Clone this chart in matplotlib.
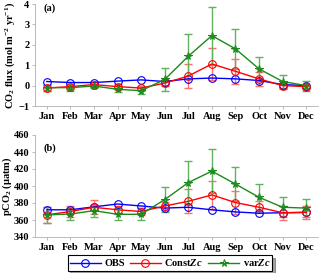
import matplotlib
matplotlib.use('Agg')
import matplotlib.pyplot as plt
import numpy as np

plt.rcParams.update({
    'font.family': ['Liberation Serif', 'DejaVu Serif'],
    'font.weight': 'bold', 'font.size': 7.5,
    'axes.labelweight': 'bold',
    'mathtext.fontset': 'custom', 'mathtext.rm': 'Liberation Serif:bold',
    'mathtext.it': 'Liberation Serif:bold:italic',
    'mathtext.bf': 'Liberation Serif:bold', 'mathtext.default': 'bf',
})

months = ['Jan', 'Feb', 'Mar', 'Apr', 'May', 'Jun', 'Jul', 'Aug', 'Sep', 'Oct', 'Nov', 'Dec']

# (a) CO2 flux
flux_obs = [0.2, 0.15, 0.15, 0.22, 0.28, 0.2, 0.33, 0.37, 0.33, 0.25, 0.05, 0.0]
flux_const = [-0.12, -0.05, 0.05, -0.05, -0.12, 0.12, 0.47, 1.06, 0.7, 0.33, 0.0, -0.05]
flux_const_err = [0.15, 0.12, 0.12, 0.12, 0.12, 0.15, 0.6, 0.8, 0.6, 0.33, 0.15, 0.1]
flux_var = [-0.1, -0.1, -0.02, -0.18, -0.25, 0.3, 1.44, 2.45, 1.8, 0.82, 0.2, 0.0]
flux_var_err = [0.15, 0.15, 0.12, 0.15, 0.15, 0.55, 1.1, 1.42, 0.97, 0.6, 0.3, 0.25]

# (b) pCO2
p_obs = [372, 372, 375.5, 378.8, 376.5, 374, 375, 372, 369.5, 368, 368.5, 369]
p_const = [366, 370, 375, 372, 370, 376.5, 382, 389.5, 380.5, 375, 368.5, 369]
p_const_err = [9, 7, 8, 5, 4, 5, 14, 16, 14, 7, 8, 8]
p_var = [366, 367, 371, 366.7, 366.7, 384, 404, 417.5, 402.3, 386.7, 375, 374]
p_var_err = [9, 7, 7, 7, 7, 15, 25, 26, 20, 16, 12, 11]

series_names = ['OBS', r'Const$\it{Zc}$', r'var$\it{Zc}$']

x = np.arange(len(months))

fig = plt.figure(figsize=(3.2, 2.73), dpi=100)
ax_a = fig.add_axes([35/320, 1 - 106/273, 283/320, 102/273])
ax_b = fig.add_axes([35/320, 1 - 237/273, 283/320, 102/273])

blue, red, green = '#0000ff', '#ff0000', '#1a8a1a'
red_err, green_err = '#ff7070', '#5fb35f'


def draw(ax, obs, const, const_err, var, var_err):
    ax.errorbar(x, const, yerr=const_err, fmt='none', ecolor=red_err,
                elinewidth=1, capsize=3, capthick=1, zorder=2)
    ax.errorbar(x, var, yerr=var_err, fmt='none', ecolor=green_err,
                elinewidth=1, capsize=3, capthick=1, zorder=2)
    ax.plot(x, obs, '-o', color=blue, lw=1, ms=5.5, mfc='none', mew=0.8,
            label=series_names[0], zorder=3)
    ax.plot(x, const, '-o', color=red, lw=1, ms=5.5, mfc='none', mew=0.8,
            label=series_names[1], zorder=3)
    ax.plot(x, var, '-*', color=green, lw=1, ms=5.5, mfc='none', mew=0.8,
            label=series_names[2], zorder=3)
    ax.set_xlim(-0.5, 11.5)
    ax.set_xticks(x)
    ax.set_xticklabels(months)
    for s in ['top', 'right']:
        ax.spines[s].set_visible(False)
    for s in ['left', 'bottom']:
        ax.spines[s].set_color('#b0b0b0')
        ax.spines[s].set_linewidth(0.6)
    ax.tick_params(length=2, width=0.6, color='#b0b0b0', pad=2)


draw(ax_a, flux_obs, flux_const, flux_const_err, flux_var, flux_var_err)
ax_a.set_ylim(-1, 4)
ax_a.set_yticks([-1, 0, 1, 2, 3, 4])
ax_a.set_ylabel(r'CO$_2$ flux (mol m$^{-2}$ yr$^{-1}$)', fontsize=7.5, labelpad=1)
ax_a.text(0.03, 0.93, '(a)', transform=ax_a.transAxes, fontsize=7.5, fontweight='bold')

draw(ax_b, p_obs, p_const, p_const_err, p_var, p_var_err)
ax_b.set_ylim(340, 460)
ax_b.set_yticks(np.arange(340, 461, 20))
ax_b.set_ylabel(r'pCO$_2$ ($\mu$atm)', fontsize=7.5, labelpad=0)
ax_b.text(0.03, 0.85, '(b)', transform=ax_b.transAxes, fontsize=7.5, fontweight='bold')

handles, labels = ax_b.get_legend_handles_labels()
leg = fig.legend(handles, labels, loc='center', bbox_to_anchor=(170/320, 1 - 263/273),
                 ncol=3, frameon=True, fancybox=False, shadow=True, fontsize=7.5,
                 handlelength=3, columnspacing=0.5, handletextpad=0.3,
                 borderpad=0.2, edgecolor='black')
leg.get_frame().set_linewidth(0.8)

fig.savefig('out.png', dpi=100)
